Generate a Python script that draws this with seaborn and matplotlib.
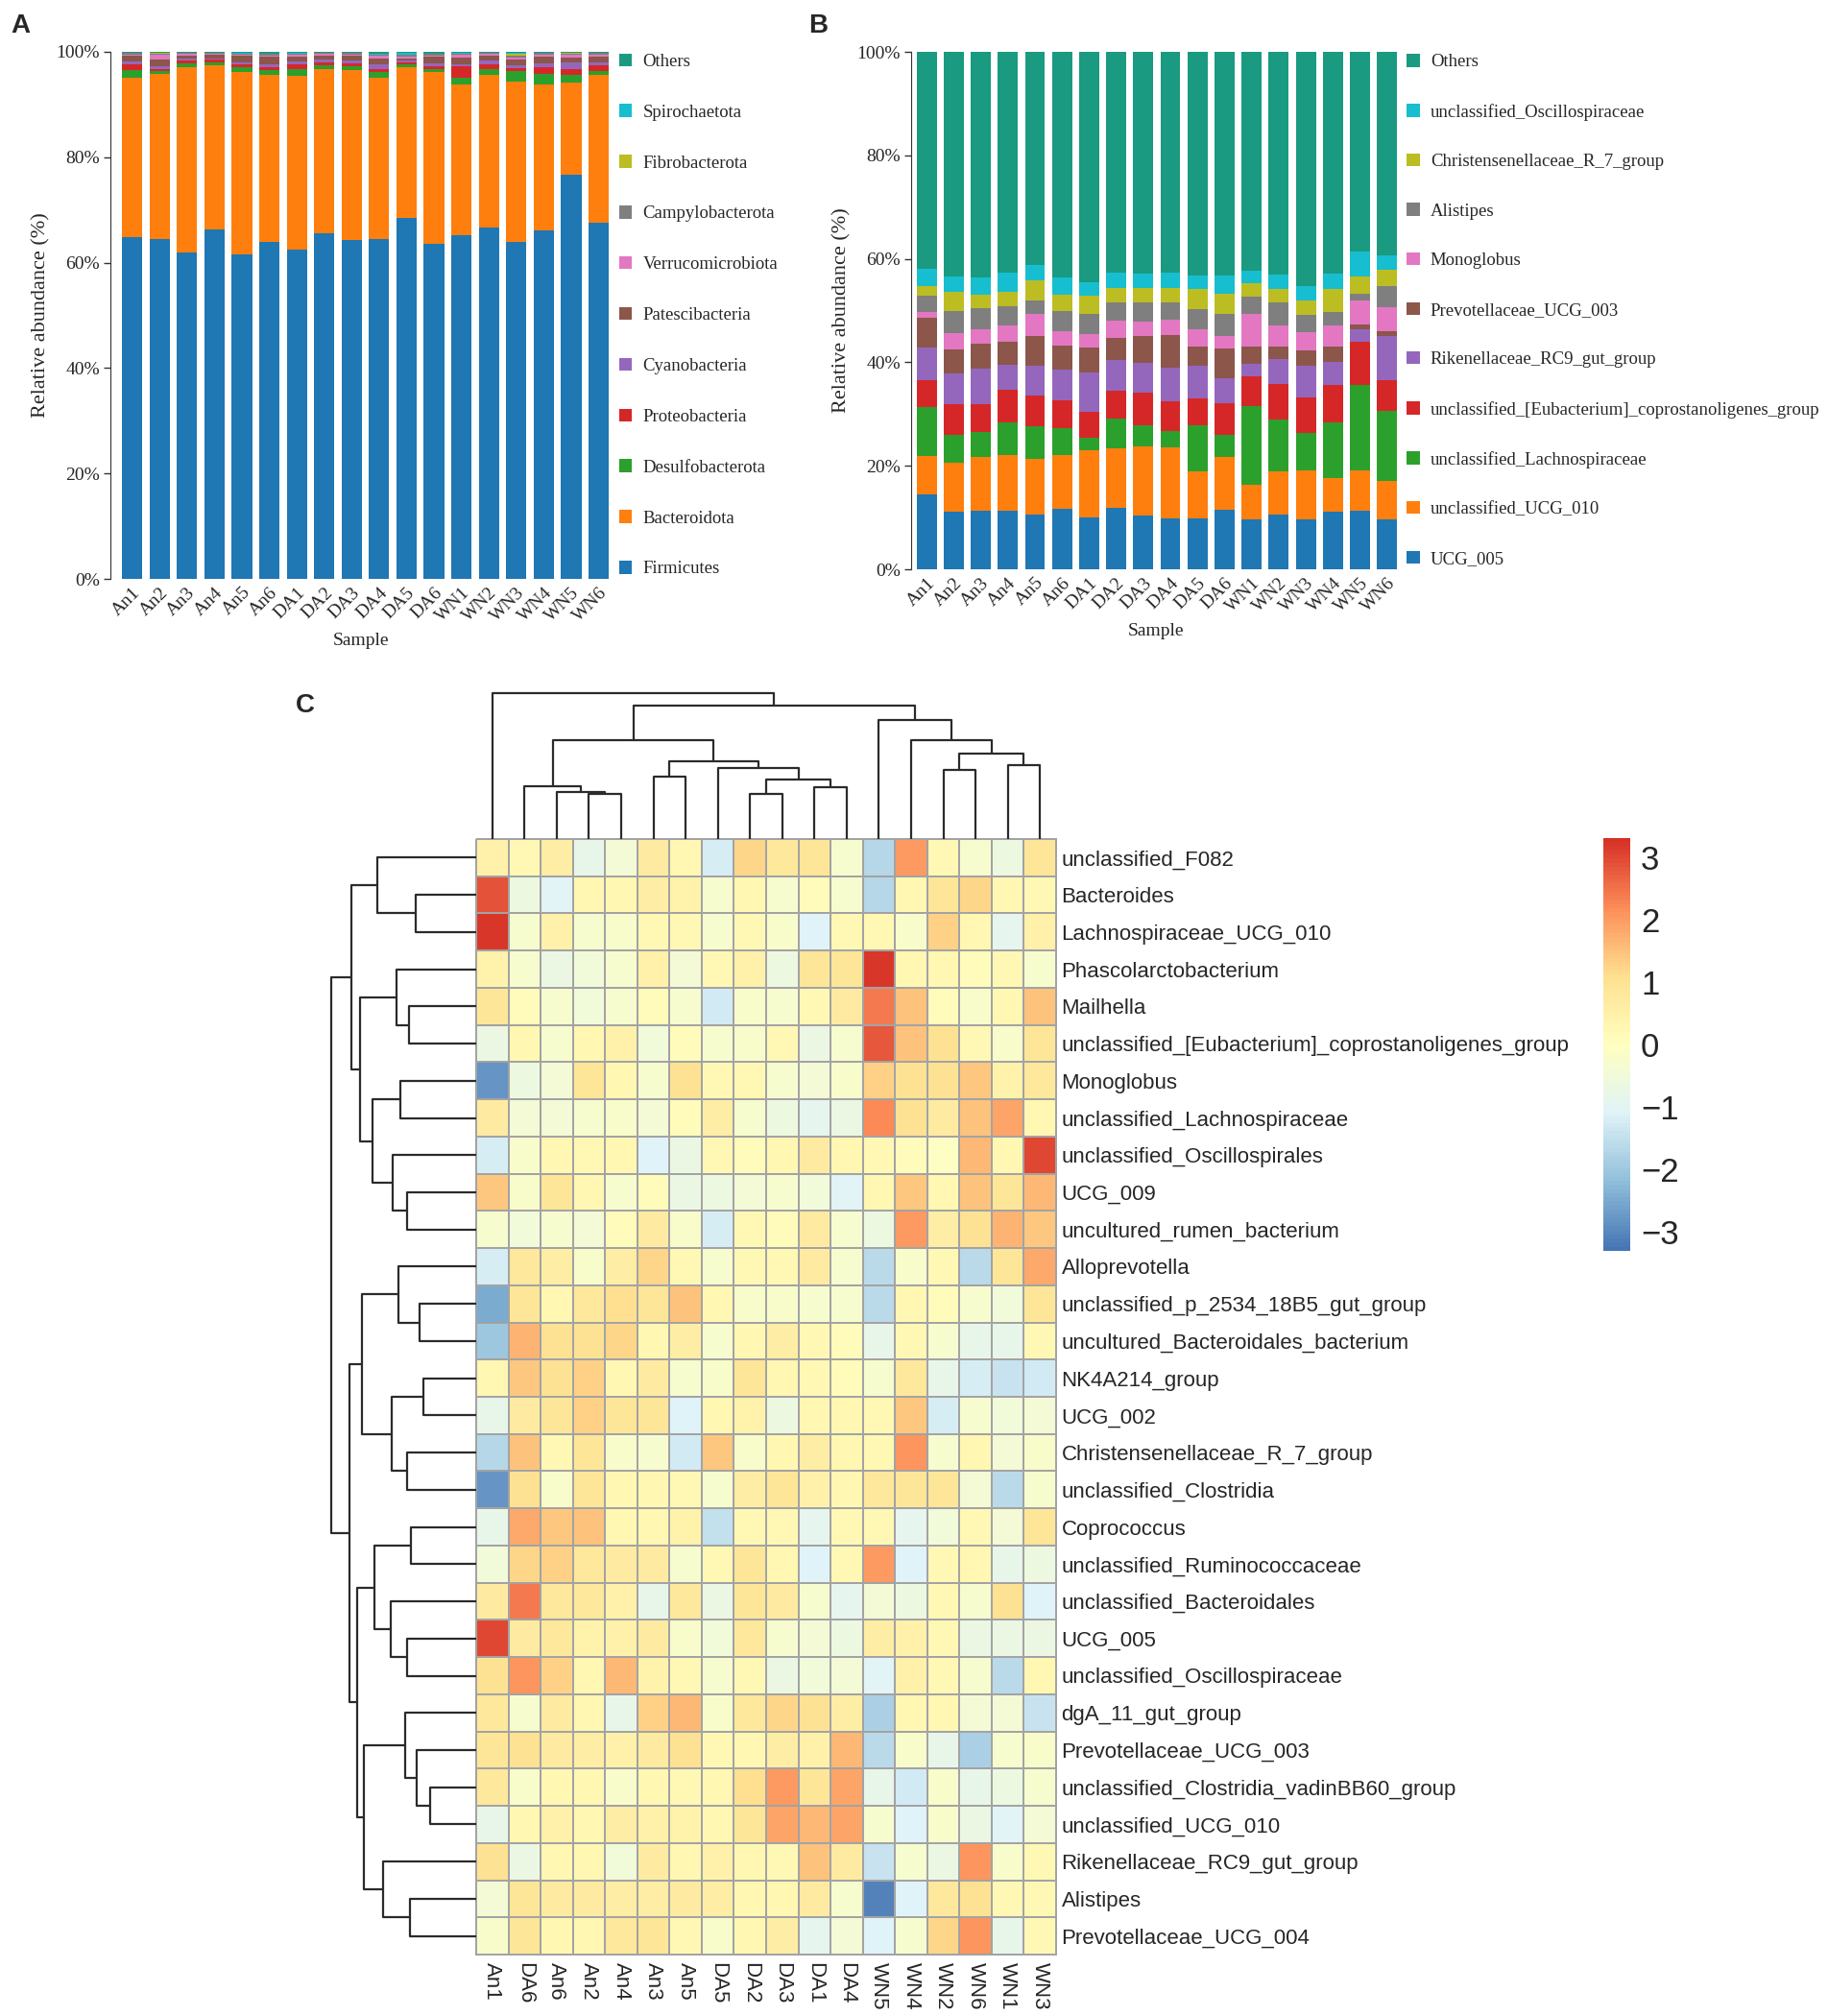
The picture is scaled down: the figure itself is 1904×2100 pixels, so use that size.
# Microbiota composition (phylum / genus bars) and clustered genus heatmap
import numpy as np
import pandas as pd
import matplotlib
matplotlib.use("Agg")
import matplotlib.pyplot as plt
import seaborn as sns
from matplotlib.patches import Patch
from matplotlib.colors import LinearSegmentedColormap

# ---------------- data ----------------
samples = ["An1", "An2", "An3", "An4", "An5", "An6", "DA1", "DA2", "DA3",
           "DA4", "DA5", "DA6", "WN1", "WN2", "WN3", "WN4", "WN5", "WN6"]

# panel A: phylum level relative abundance (%)
phyla = ["Firmicutes", "Bacteroidota", "Desulfobacterota", "Proteobacteria",
         "Cyanobacteria", "Patescibacteria", "Verrucomicrobiota",
         "Campylobacterota", "Fibrobacterota", "Spirochaetota", "Others"]
firmicutes = [64.9, 64.5, 61.9, 66.3, 61.5, 63.9, 62.5, 65.6, 64.3, 64.4, 68.4, 63.6, 65.2, 66.7, 64.0, 66.2, 76.7, 67.5]
bacteroidota = [30.1, 31.3, 35.1, 31.1, 34.6, 31.8, 32.9, 31.1, 32.3, 30.6, 28.6, 32.6, 28.6, 29.0, 30.3, 27.6, 17.4, 28.1]
desulfobacterota = [1.5, 0.6, 0.8, 0.6, 0.9, 0.8, 1.3, 0.8, 0.7, 1.2, 0.6, 0.6, 1.2, 1.0, 2.1, 2.0, 1.5, 0.8]
proteobacteria = [1.2, 0.4, 0.6, 0.5, 0.6, 0.6, 0.9, 0.5, 0.5, 0.6, 0.4, 0.5, 2.2, 1.0, 0.5, 1.2, 1.2, 1.0]
cyanobacteria = [0.4, 0.4, 0.3, 0.3, 0.4, 0.5, 0.6, 0.5, 0.6, 0.8, 0.3, 0.6, 0.5, 0.6, 0.6, 0.8, 1.2, 0.6]
patescibacteria = [1.1, 1.4, 0.6, 0.6, 1.2, 1.4, 0.9, 0.7, 0.8, 1.2, 0.5, 1.1, 1.2, 0.9, 1.0, 1.2, 0.9, 1.1]
verrucomicrobiota = [0.3, 0.8, 0.3, 0.2, 0.3, 0.3, 0.4, 0.4, 0.3, 0.4, 0.3, 0.3, 0.5, 0.4, 0.4, 0.5, 0.5, 0.4]
campylobacterota = [0.3, 0.3, 0.2, 0.2, 0.2, 0.3, 0.2, 0.2, 0.3, 0.3, 0.3, 0.3, 0.3, 0.2, 0.3, 0.3, 0.3, 0.3]
fibrobacterota = [0.0, 0.1, 0.0, 0.0, 0.0, 0.0, 0.0, 0.0, 0.0, 0.0, 0.0, 0.0, 0.0, 0.0, 0.5, 0.0, 0.1, 0.0]
spirochaetota = [0.0, 0.0, 0.0, 0.0, 0.1, 0.1, 0.1, 0.0, 0.0, 0.1, 0.4, 0.1, 0.1, 0.0, 0.1, 0.0, 0.0, 0.0]
others_a = [0.2, 0.2, 0.2, 0.2, 0.2, 0.3, 0.2, 0.2, 0.2, 0.4, 0.2, 0.3, 0.2, 0.2, 0.2, 0.2, 0.2, 0.2]

# panel B: genus level relative abundance (%)
genera = ["UCG_005", "unclassified_UCG_010", "unclassified_Lachnospiraceae",
          "unclassified_[Eubacterium]_coprostanoligenes_group",
          "Rikenellaceae_RC9_gut_group", "Prevotellaceae_UCG_003", "Monoglobus",
          "Alistipes", "Christensenellaceae_R_7_group",
          "unclassified_Oscillospiraceae", "Others"]
ucg_005 = [14.5, 11.2, 11.4, 11.3, 10.6, 11.6, 10.0, 11.8, 10.3, 9.8, 9.9, 11.5, 9.7, 10.6, 9.7, 11.2, 11.4, 9.6]
uncl_ucg_010 = [7.3, 9.4, 10.3, 10.8, 10.7, 10.5, 13.0, 11.5, 13.5, 13.8, 9.0, 10.2, 6.6, 8.3, 9.4, 6.4, 7.7, 7.5]
uncl_lachno = [9.5, 5.4, 4.8, 6.2, 6.3, 5.1, 2.5, 5.8, 4.1, 3.1, 8.9, 4.3, 15.3, 10.0, 7.3, 10.7, 16.6, 13.6]
uncl_eubact = [5.2, 5.9, 5.4, 6.4, 6.0, 5.5, 4.9, 5.4, 6.3, 5.7, 5.3, 6.1, 5.6, 6.9, 6.8, 7.3, 8.3, 5.9]
rikenella_rc9 = [6.3, 6.0, 6.9, 4.9, 5.8, 5.8, 7.6, 6.0, 5.7, 6.5, 6.2, 4.8, 2.5, 4.8, 6.2, 4.5, 2.4, 8.4]
prevo_ucg_003 = [5.9, 4.6, 4.8, 4.3, 5.7, 4.8, 4.8, 4.3, 5.1, 6.3, 3.7, 5.7, 3.3, 2.4, 2.9, 2.9, 1.0, 1.0]
monoglobus = [1.0, 3.1, 2.8, 3.2, 4.3, 2.7, 2.6, 3.2, 2.9, 3.0, 3.3, 2.4, 6.3, 4.2, 3.6, 4.2, 4.6, 4.7]
alistipes = [3.1, 4.3, 4.1, 3.8, 2.6, 3.9, 3.9, 3.5, 3.6, 3.3, 3.9, 4.3, 3.3, 4.3, 3.3, 2.5, 1.3, 4.0]
christensen = [2.0, 3.7, 2.6, 2.8, 3.8, 3.2, 3.5, 2.8, 2.8, 2.8, 4.0, 3.9, 2.6, 2.6, 2.7, 4.4, 3.3, 3.1]
uncl_oscillo = [3.3, 3.0, 3.3, 3.6, 3.0, 3.3, 2.6, 3.1, 2.9, 3.1, 2.6, 3.6, 2.5, 2.9, 2.9, 3.1, 4.9, 2.9]
others_b = [41.9, 43.4, 43.6, 42.7, 41.2, 43.6, 44.6, 42.6, 42.8, 42.6, 43.2, 43.2, 42.3, 43.0, 45.2, 42.8, 38.5, 39.3]

stack_colors = ["#1f77b4", "#ff7f0e", "#2ca02c", "#d62728", "#9467bd", "#8c564b",
                "#e377c2", "#7f7f7f", "#bcbd22", "#17becf", "#1a9a80"]

# panel C: row-scaled abundance, rows/cols in dendrogram order
heat_cols = ["An1", "DA6", "An6", "An2", "An4", "An3", "An5", "DA5", "DA2",
             "DA3", "DA1", "DA4", "WN5", "WN4", "WN2", "WN6", "WN1", "WN3"]
heat_rows = ["unclassified_F082", "Bacteroides", "Lachnospiraceae_UCG_010",
             "Phascolarctobacterium", "Mailhella",
             "unclassified_[Eubacterium]_coprostanoligenes_group", "Monoglobus",
             "unclassified_Lachnospiraceae", "unclassified_Oscillospirales", "UCG_009",
             "uncultured_rumen_bacterium", "Alloprevotella",
             "unclassified_p_2534_18B5_gut_group", "uncultured_Bacteroidales_bacterium",
             "NK4A214_group", "UCG_002", "Christensenellaceae_R_7_group",
             "unclassified_Clostridia", "Coprococcus", "unclassified_Ruminococcaceae",
             "unclassified_Bacteroidales", "UCG_005", "unclassified_Oscillospiraceae",
             "dgA_11_gut_group", "Prevotellaceae_UCG_003",
             "unclassified_Clostridia_vadinBB60_group", "unclassified_UCG_010",
             "Rikenellaceae_RC9_gut_group", "Alistipes", "Prevotellaceae_UCG_004"]
heat_values = [
    [0.5, 0.2, 0.6, -0.8, -0.4, 0.7, 0.3, -1.2, 1.2, 0.8, 0.9, -0.3, -1.7, 2.0, 0.2, -0.3, -0.6, 0.9],
    [2.9, -0.6, -1.0, 0.3, 0.3, 0.6, 0.4, -0.3, 0.3, -0.3, 0.1, -0.3, -1.7, 0.3, 0.9, 1.2, 0.3, 0.2],
    [3.2, -0.3, 0.5, -0.3, -0.2, 0.2, 0.2, -0.3, 0.2, -0.2, -1.1, 0.2, 0.2, -0.2, 1.3, 0.3, -0.9, 0.5],
    [0.4, -0.3, -0.7, -0.5, -0.3, 0.5, -0.4, 0.2, 0.5, -0.6, 0.9, 0.9, 3.2, 0.3, 0.3, 0.1, 0.2, -0.3],
    [0.9, 0.1, -0.3, -0.5, -0.3, 0.1, -0.3, -1.3, -0.2, -0.3, 0.2, 0.7, 2.4, 1.5, 0.1, -0.2, 0.3, 1.5],
    [-0.7, 0.3, -0.3, 0.3, 0.5, -0.5, 0.1, -0.3, -0.2, 0.2, -0.7, -0.3, 2.8, 1.5, 1.0, 0.2, -0.2, 0.9],
    [-2.8, -0.6, -0.4, 0.9, 0.3, -0.3, 1.0, 0.2, 0.2, -0.3, -0.4, -0.2, 1.3, 1.0, 1.0, 1.4, 0.4, 0.8],
    [0.7, -0.4, -0.4, -0.3, -0.2, -0.4, 0.1, 0.6, -0.3, -0.6, -0.9, -0.7, 2.2, 1.0, 0.7, 1.5, 1.9, 0.3],
    [-1.2, -0.2, 0.3, 0.2, 0.3, -1.1, -0.7, 0.2, 0.1, 0.3, 0.7, 0.3, 0.2, 0.1, -0.1, 1.6, 0.3, 3.0],
    [1.4, -0.2, 0.9, 0.3, -0.3, 0.1, -0.7, -0.6, -0.4, -0.3, -0.5, -1.0, 0.3, 1.4, 0.3, 1.5, 0.9, 1.6],
    [-0.3, -0.5, -0.3, -0.4, 0.1, 0.7, -0.2, -1.2, 0.2, 0.1, 0.7, -0.3, -0.6, 2.0, 0.6, 1.0, 1.7, 1.4],
    [-1.2, 0.8, 0.6, -0.2, 0.6, 1.2, 0.2, -0.3, 0.2, 0.2, 0.7, -0.3, -1.6, -0.2, 0.2, -1.6, 0.9, 1.8],
    [-2.5, 0.9, 0.3, 0.8, 1.1, 0.9, 1.5, 0.3, -0.2, -0.2, -0.3, -0.3, -1.6, 0.3, 0.1, -0.3, -0.5, 0.9],
    [-2.0, 1.7, 1.0, 1.0, 1.2, 0.3, 0.6, -0.3, 0.3, 0.6, 0.2, 0.1, -0.8, 0.2, -0.3, -0.8, -0.8, 0.2],
    [0.3, 1.4, 1.0, 1.3, 0.3, 0.7, -0.3, -0.2, 0.9, 0.3, 0.2, 0.1, -0.3, 0.8, -0.8, -1.2, -1.4, -1.3],
    [-0.8, 0.7, 0.9, 1.3, 0.9, 0.9, -1.1, 0.3, 0.4, -0.6, 0.3, 0.3, 0.2, 1.4, -1.2, -0.3, -0.5, -0.4],
    [-1.7, 1.5, 0.2, 0.9, -0.2, -0.3, -1.3, 1.4, -0.2, 0.3, 0.6, 0.3, 0.2, 2.1, -0.3, 0.3, -0.4, -0.2],
    [-2.8, 1.0, -0.2, 0.9, 0.3, 0.3, 0.2, -0.3, 0.6, 0.9, 0.5, 0.3, 0.8, 0.9, 0.9, -0.4, -1.6, -0.3],
    [-0.8, 1.8, 1.4, 1.5, 0.3, 0.3, 0.4, -1.5, 0.2, 0.2, -0.9, 0.2, 0.2, -0.9, -0.5, 0.2, -0.4, 0.9],
    [-0.5, 1.2, 1.3, 0.8, 0.7, 0.7, -0.3, 0.2, 0.9, 0.3, -1.1, 0.2, 2.0, -1.1, 0.2, 0.3, -0.8, -0.6],
    [0.7, 2.4, 0.8, 0.8, 0.5, -0.8, 0.8, -0.7, 0.9, 0.7, -0.3, -0.9, -0.4, -0.6, 0.2, -0.3, 1.0, -1.1],
    [3.0, 0.7, 0.8, 0.4, 0.5, 0.7, -0.2, -0.5, 0.8, -0.3, -0.4, -0.6, 0.6, 0.5, 0.2, -0.7, -0.7, -0.7],
    [1.0, 2.1, 1.3, 0.3, 1.6, 0.4, 0.2, -0.3, 0.2, -0.7, -0.5, -0.4, -1.0, 0.5, 0.2, -0.3, -1.6, 0.3],
    [0.8, -0.3, 0.7, 0.3, -0.8, 1.3, 1.6, -0.2, 0.8, 1.2, 1.0, 0.6, -1.8, 0.3, 0.3, -0.4, -0.4, -1.4],
    [0.9, 1.0, 0.7, 0.6, 0.5, 0.7, 1.0, 0.2, 0.3, 0.6, 0.5, 1.6, -1.6, -0.2, -0.8, -1.8, -0.3, -0.2],
    [0.8, -0.2, 0.3, 0.3, -0.2, 0.3, 0.2, 0.3, 1.1, 2.0, 0.9, 1.9, -0.8, -1.3, -0.2, -0.8, -0.6, -0.3],
    [-0.8, 0.3, 0.5, 0.3, 0.6, 0.5, 0.4, 0.3, 0.9, 1.9, 1.6, 1.9, -0.3, -1.1, -0.2, -0.7, -1.0, -0.4],
    [1.0, -0.7, 0.3, 0.3, -0.5, 0.7, 0.3, 0.5, 0.3, 0.2, 1.5, 0.7, -1.4, -0.3, -0.7, 2.1, -0.2, 0.2],
    [-0.4, 0.9, 0.7, 0.7, 0.6, 0.6, 0.7, 0.6, 0.3, 0.3, 0.7, -0.3, -3.1, -1.1, 0.8, 1.0, 0.2, 0.2],
    [-0.2, 0.9, 0.3, 0.3, 0.8, 0.9, 0.2, -0.2, 0.3, 0.6, -0.9, -0.4, -1.1, -0.3, 1.2, 2.1, -0.8, 0.2],
]

# cluster trees: (child a, child b, merge height)
# leaves are 0..n-1 in display order, merged nodes get ids n, n+1, ...
col_merges = [(3, 4, 140), (2, 18, 148), (1, 19, 165), (5, 6, 195), (8, 9, 142),
              (10, 11, 163), (22, 23, 185), (7, 24, 222), (21, 25, 242), (20, 26, 308),
              (14, 15, 215), (16, 17, 230), (28, 29, 267), (13, 30, 308), (12, 31, 370),
              (27, 32, 415), (0, 33, 455)]
row_merges = [(1, 2, 188), (0, 30, 310), (4, 5, 210), (3, 32, 250), (6, 7, 236),
              (9, 10, 216), (8, 35, 260), (34, 36, 323), (33, 37, 363), (31, 38, 391),
              (12, 13, 178), (11, 40, 243), (14, 15, 166), (16, 17, 216), (42, 43, 265),
              (41, 44, 356), (18, 19, 203), (21, 22, 216), (20, 47, 266), (46, 48, 318),
              (25, 26, 143), (24, 50, 185), (23, 51, 223), (28, 29, 206), (27, 53, 291),
              (52, 54, 351), (49, 55, 373), (45, 56, 395), (39, 57, 453)]

heat_colors = ["#4575B4", "#91BFDB", "#E0F3F8", "#FFFFBF", "#FEE090", "#FC8D59", "#D73027"]

# ---------------- figure ----------------
sns.set_style("white")
plt.rcParams["font.family"] = ["Liberation Serif", "DejaVu Serif"]

W, H = 1904, 2100
fig = plt.figure(figsize=(W / 100, H / 100), dpi=100)


def px_axes(x0, y0, x1, y1):
    # axes from pixel box (top-left origin)
    return fig.add_axes([x0 / W, 1 - y1 / H, (x1 - x0) / W, (y1 - y0) / H])


def stacked_panel(ax, layers, names, xlim, anchor_x, spacing):
    tops = np.cumsum(np.array(layers, dtype=float), axis=0)
    for vals, col in reversed(list(zip(tops, stack_colors))):
        sns.barplot(x=samples, y=vals, color=col, saturation=1, width=0.74,
                    errorbar=None, ax=ax, edgecolor="none", linewidth=0)
    ax.set_xlim(*xlim)
    ax.set_ylim(0, 100)
    ax.set_yticks(range(0, 101, 20))
    ax.set_yticklabels([f"{v}%" for v in range(0, 101, 20)], fontsize=14)
    ax.tick_params(axis="y", length=5, width=1, color="#333333", pad=3, left=True)
    ax.tick_params(axis="x", length=0, pad=4)
    for lab in ax.get_xticklabels():
        lab.set_rotation(45)
        lab.set_ha("right")
        lab.set_rotation_mode("anchor")
        lab.set_fontsize(14)
    for s in ["top", "right", "bottom"]:
        ax.spines[s].set_visible(False)
    ax.spines["left"].set_color("#333333")
    ax.set_xlabel("Sample", fontsize=14, labelpad=6)
    ax.set_ylabel("Relative abundance (%)", fontsize=16, labelpad=4)
    handles = [Patch(facecolor=c, edgecolor="none") for c in stack_colors][::-1]
    ax.legend(handles, names[::-1], loc="center left", bbox_to_anchor=(anchor_x, 0.5),
              frameon=False, fontsize=13.5, handlelength=0.72, handleheight=0.72,
              handletextpad=0.6, labelspacing=spacing, borderpad=0, borderaxespad=0)


ax_a = px_axes(115, 54, 637, 603)
stacked_panel(ax_a, [firmicutes, bacteroidota, desulfobacterota, proteobacteria,
                     cyanobacteria, patescibacteria, verrucomicrobiota,
                     campylobacterota, fibrobacterota, spirochaetota, others_a],
              phyla, (-0.79, 17.47), 1.015, 1.9)

ax_b = px_axes(949, 54, 1458, 593)
stacked_panel(ax_b, [ucg_005, uncl_ucg_010, uncl_lachno, uncl_eubact, rikenella_rc9,
                     prevo_ucg_003, monoglobus, alistipes, christensen, uncl_oscillo,
                     others_b],
              genera, (-0.57, 17.47), 1.014, 1.83)

# ---- heatmap panel ----
sans = ["Liberation Sans", "DejaVu Sans"]
cmap = LinearSegmentedColormap.from_list("rdylbu_r", heat_colors, N=100)
heat_df = pd.DataFrame(heat_values, index=heat_rows, columns=heat_cols)

ax_h = px_axes(496, 874, 1100, 2036)
ax_cb = px_axes(1670, 873, 1698, 1303)
sns.heatmap(heat_df, cmap=cmap, vmin=-3.3, vmax=3.3, linewidths=1.2,
            linecolor="#a3a3a3", cbar_ax=ax_cb, ax=ax_h,
            xticklabels=True, yticklabels=True)
ax_h.collections[0].set_clip_on(False)
ax_h.tick_params(left=False, right=False, bottom=False, labelleft=False,
                 labelright=True, length=0)
ax_h.tick_params(axis="y", pad=4)
ax_h.tick_params(axis="x", pad=6)
for lab in ax_h.get_yticklabels():
    lab.set_rotation(0)
    lab.set_fontsize(16)
    lab.set_family(sans)
for lab in ax_h.get_xticklabels():
    lab.set_rotation(270)
    lab.set_fontsize(16)
    lab.set_family(sans)
    lab.set_va("top")
ax_h.set_xlabel("")
ax_h.set_ylabel("")

cbar = ax_h.collections[0].colorbar
cbar.set_ticks([-3, -2, -1, 0, 1, 2, 3])
cbar.outline.set_visible(False)
ax_cb.tick_params(length=0, labelsize=25, pad=8)
for lab in ax_cb.get_yticklabels():
    lab.set_family(sans)


def draw_tree(ax, merges, n, side):
    pos = {i: i + 0.5 for i in range(n)}
    hgt = {i: 0.0 for i in range(n)}
    for k, (a, b, h) in enumerate(merges):
        xs = [pos[a], pos[a], pos[b], pos[b]]
        hs = [hgt[a], h, h, hgt[b]]
        if side == "top":
            ax.plot(xs, hs, color="#2b2b2b", lw=1.6, clip_on=False,
                    solid_capstyle="butt")
        else:
            ax.plot(hs, xs, color="#2b2b2b", lw=1.6, clip_on=False,
                    solid_capstyle="butt")
        pos[n + k] = (pos[a] + pos[b]) / 2
        hgt[n + k] = h
    return max(h for _, _, h in merges)


ax_top = px_axes(496, 722, 1100, 874)
top_h = draw_tree(ax_top, col_merges, len(heat_cols), "top")
ax_top.set_xlim(0, len(heat_cols))
ax_top.set_ylim(0, top_h)
ax_top.axis("off")

ax_left = px_axes(345, 874, 496, 2036)
left_h = draw_tree(ax_left, row_merges, len(heat_rows), "left")
ax_left.set_xlim(left_h, 0)
ax_left.set_ylim(len(heat_rows), 0)
ax_left.axis("off")

# panel letters
for letter, (x, y) in {"A": (11, 27), "B": (842, 27), "C": (308, 735)}.items():
    fig.text(x / W, 1 - y / H, letter, fontsize=20, fontweight="bold",
             family=sans, va="center", ha="left")

fig.savefig("out.png", dpi=100)
